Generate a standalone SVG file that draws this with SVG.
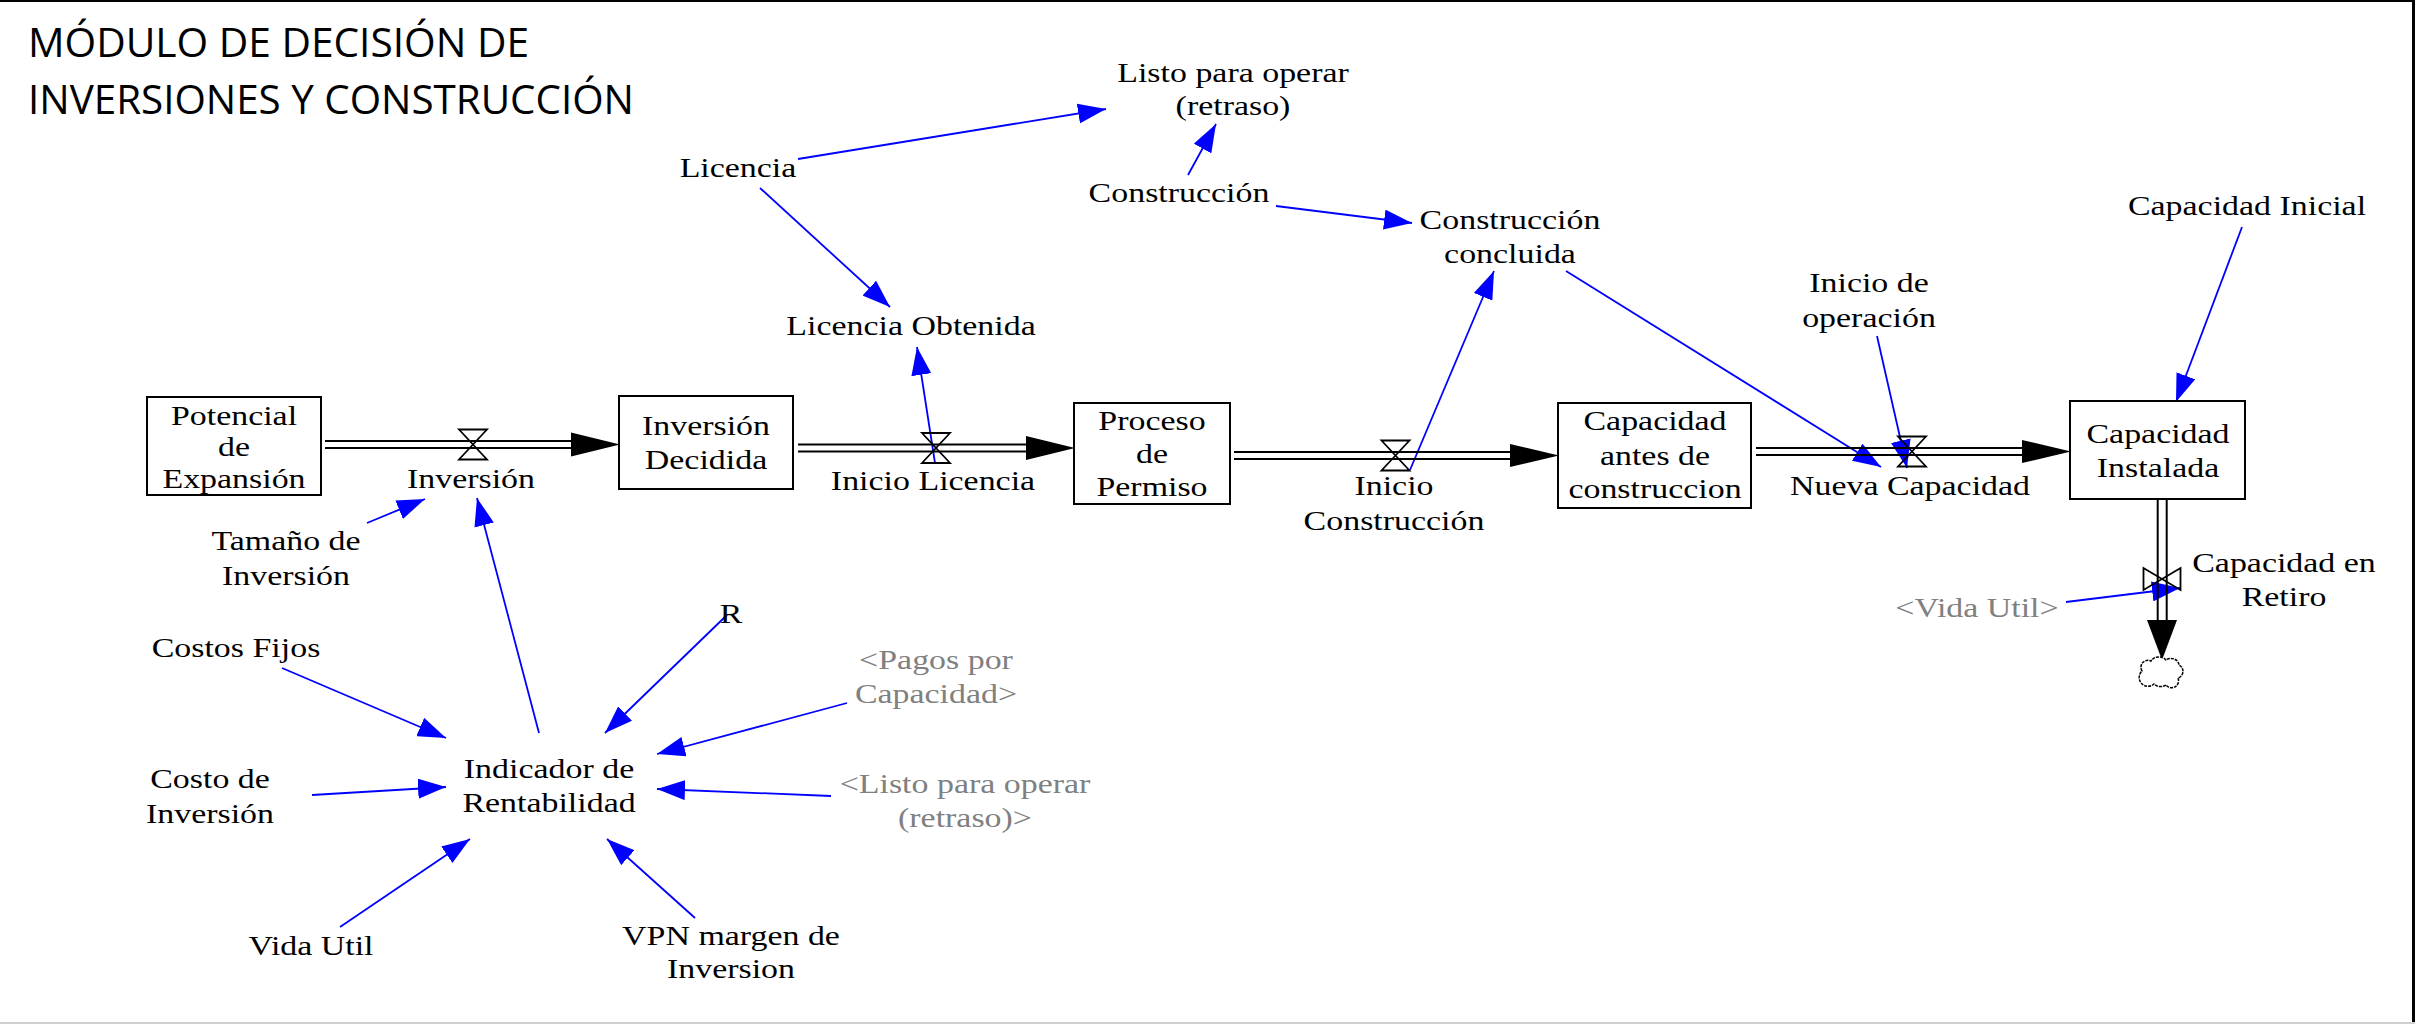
<svg xmlns="http://www.w3.org/2000/svg" width="2415" height="1024" viewBox="0 0 2415 1024">
<defs>
<style>
.t{font-family:"Liberation Serif","Times New Roman",serif;font-size:26.5px;fill:#000;text-anchor:middle}
.g{fill:#808080}
.title{font-family:"Open Sans","Liberation Sans",sans-serif;font-size:40px;fill:#000}
.stock{fill:#fff;stroke:#000;stroke-width:2}
.pipe{stroke:#000;stroke-width:2;fill:none}
.valve{fill:none;stroke:#000;stroke-width:1.8}
.head{fill:#000}
.link{stroke:#0000ff;stroke-width:1.8;fill:none;marker-end:url(#ah)}
</style>
<marker id="ah" markerUnits="userSpaceOnUse" markerWidth="28" markerHeight="20" refX="28" refY="10" orient="auto" viewBox="0 0 28 20">
<path d="M0,0 L28,10 L0,20 z" fill="#0000ff"/>
</marker>
</defs>
<rect x="0" y="0" width="2415" height="1024" fill="#fff"/>
<line x1="0" y1="1" x2="2415" y2="1" stroke="#000" stroke-width="2"/>
<line x1="2413.5" y1="0" x2="2413.5" y2="1024" stroke="#000" stroke-width="3"/>
<line x1="0" y1="1023" x2="2415" y2="1023" stroke="#d0d0d0" stroke-width="2"/>

<g id="title">
<text class="title" x="28" y="57" textLength="501" lengthAdjust="spacingAndGlyphs">MÓDULO DE DECISIÓN DE</text>
<text class="title" x="28" y="114" textLength="606" lengthAdjust="spacingAndGlyphs">INVERSIONES Y CONSTRUCCIÓN</text>
</g>

<g id="connectors">
<line class="link" x1="798" y1="159" x2="1106" y2="109"/>
<line class="link" x1="1188" y1="175" x2="1216" y2="124"/>
<line class="link" x1="760" y1="188" x2="890" y2="307"/>
<line class="link" x1="1276" y1="206" x2="1412" y2="223"/>
<line class="link" x1="935" y1="463" x2="917" y2="347"/>
<line class="link" x1="1410" y1="470" x2="1494" y2="271"/>
<line class="link" x1="1566" y1="271" x2="1881" y2="467"/>
<line class="link" x1="1877" y1="336" x2="1907" y2="468"/>
<line class="link" x1="2242" y1="227" x2="2176" y2="402"/>
<line class="link" x1="367" y1="523" x2="425" y2="499"/>
<line class="link" x1="539" y1="733" x2="477" y2="498"/>
<line class="link" x1="727" y1="615" x2="605" y2="733"/>
<line class="link" x1="282" y1="668" x2="446" y2="738"/>
<line class="link" x1="847" y1="703" x2="657" y2="754"/>
<line class="link" x1="312" y1="795" x2="446" y2="787"/>
<line class="link" x1="831" y1="796" x2="657" y2="789"/>
<line class="link" x1="340" y1="927" x2="470" y2="839"/>
<line class="link" x1="695" y1="918" x2="607" y2="839"/>
<line class="link" x1="2066" y1="602" x2="2180" y2="588"/>
</g>

<g id="flow-inversion">
<line class="pipe" x1="325" y1="441" x2="572" y2="441"/>
<line class="pipe" x1="325" y1="448" x2="572" y2="448"/>
<polygon class="head" points="571,432.5 571,456.5 620,444.5"/>
<path class="valve" d="M459,429.5 H487 L459,459.5 H487 Z"/>
<text class="t" transform="translate(471,0) scale(1.28,1)"><tspan x="0" y="488">Inversión</tspan></text>
</g>

<g id="flow-inicio-licencia">
<line class="pipe" x1="798" y1="444.5" x2="1027" y2="444.5"/>
<line class="pipe" x1="798" y1="451.5" x2="1027" y2="451.5"/>
<polygon class="head" points="1026,436 1026,460 1075,448"/>
<path class="valve" d="M922,433 H950 L922,463 H950 Z"/>
<text class="t" transform="translate(933,0) scale(1.28,1)"><tspan x="0" y="490">Inicio Licencia</tspan></text>
</g>

<g id="flow-inicio-construccion">
<line class="pipe" x1="1234" y1="452" x2="1511" y2="452"/>
<line class="pipe" x1="1234" y1="459" x2="1511" y2="459"/>
<polygon class="head" points="1510,444 1510,467 1559,455.5"/>
<path class="valve" d="M1381.5,440.5 H1409.5 L1381.5,470.5 H1409.5 Z"/>
<text class="t" transform="translate(1394,0) scale(1.28,1)"><tspan x="0" y="495">Inicio</tspan><tspan x="0" y="530">Construcción</tspan></text>
</g>

<g id="flow-nueva-capacidad">
<line class="pipe" x1="1756" y1="448" x2="2023" y2="448"/>
<line class="pipe" x1="1756" y1="455" x2="2023" y2="455"/>
<polygon class="head" points="2022,440 2022,463 2071,451.5"/>
<path class="valve" d="M1898,436.5 H1926 L1898,466.5 H1926 Z"/>
<text class="t" transform="translate(1910,0) scale(1.28,1)"><tspan x="0" y="495">Nueva Capacidad</tspan></text>
</g>

<g id="flow-capacidad-retiro">
<line class="pipe" x1="2157.7" y1="500" x2="2157.7" y2="621"/>
<line class="pipe" x1="2166.7" y1="500" x2="2166.7" y2="621"/>
<polygon class="head" points="2147,620 2177,620 2162,660"/>
<path class="valve" d="M2143.5,568 V590 L2180.5,568 V590 Z"/>
<path d="M2142,671 a7,7 0 0 1 9,-10 a9,8 0 0 1 15,-1 a8,7 0 0 1 13,5 a7,7 0 0 1 -1,13 a7,7 0 0 1 -12,7 a8,6 0 0 1 -12,-1 a7,7 0 0 1 -12,-13 z" fill="#fff" stroke="#000" stroke-width="1.5" stroke-dasharray="3,1"/>
<text class="t" transform="translate(2284,0) scale(1.28,1)"><tspan x="0" y="572">Capacidad en</tspan><tspan x="0" y="606">Retiro</tspan></text>
</g>

<g id="stock-potencial">
<rect class="stock" x="147" y="397" width="174" height="98"/>
<text class="t" transform="translate(234,0) scale(1.28,1)"><tspan x="0" y="425">Potencial</tspan><tspan x="0" y="456">de</tspan><tspan x="0" y="488">Expansión</tspan></text>
</g>
<g id="stock-inversion-decidida">
<rect class="stock" x="619" y="396" width="174" height="93"/>
<text class="t" transform="translate(706,0) scale(1.28,1)"><tspan x="0" y="435">Inversión</tspan><tspan x="0" y="469">Decidida</tspan></text>
</g>
<g id="stock-proceso-permiso">
<rect class="stock" x="1074" y="403" width="156" height="101"/>
<text class="t" transform="translate(1152,0) scale(1.28,1)"><tspan x="0" y="430">Proceso</tspan><tspan x="0" y="463">de</tspan><tspan x="0" y="496">Permiso</tspan></text>
</g>
<g id="stock-capacidad-antes">
<rect class="stock" x="1558" y="403" width="193" height="105"/>
<text class="t" transform="translate(1655,0) scale(1.28,1)"><tspan x="0" y="430">Capacidad</tspan><tspan x="0" y="465">antes de</tspan><tspan x="0" y="498">construccion</tspan></text>
</g>
<g id="stock-capacidad-instalada">
<rect class="stock" x="2070" y="401" width="175" height="98"/>
<text class="t" transform="translate(2158,0) scale(1.28,1)"><tspan x="0" y="443">Capacidad</tspan><tspan x="0" y="477">Instalada</tspan></text>
</g>

<g id="aux-listo"><text class="t" transform="translate(1233,0) scale(1.28,1)"><tspan x="0" y="82">Listo para operar</tspan><tspan x="0" y="115">(retraso)</tspan></text></g>
<g id="aux-licencia"><text class="t" transform="translate(738,0) scale(1.28,1)"><tspan x="0" y="177">Licencia</tspan></text></g>
<g id="aux-construccion"><text class="t" transform="translate(1179,0) scale(1.28,1)"><tspan x="0" y="202">Construcción</tspan></text></g>
<g id="aux-construccion-concluida"><text class="t" transform="translate(1510,0) scale(1.28,1)"><tspan x="0" y="229">Construcción</tspan><tspan x="0" y="263">concluida</tspan></text></g>
<g id="aux-licencia-obtenida"><text class="t" transform="translate(911,0) scale(1.28,1)"><tspan x="0" y="335">Licencia Obtenida</tspan></text></g>
<g id="aux-inicio-operacion"><text class="t" transform="translate(1869,0) scale(1.28,1)"><tspan x="0" y="292">Inicio de</tspan><tspan x="0" y="327">operación</tspan></text></g>
<g id="aux-capacidad-inicial"><text class="t" transform="translate(2247,0) scale(1.28,1)"><tspan x="0" y="215">Capacidad Inicial</tspan></text></g>
<g id="aux-tamano"><text class="t" transform="translate(286,0) scale(1.28,1)"><tspan x="0" y="550">Tamaño de</tspan><tspan x="0" y="585">Inversión</tspan></text></g>
<g id="aux-r"><text class="t" transform="translate(731,0) scale(1.28,1)"><tspan x="0" y="623">R</tspan></text></g>
<g id="aux-costos-fijos"><text class="t" transform="translate(236,0) scale(1.28,1)"><tspan x="0" y="657">Costos Fijos</tspan></text></g>
<g id="aux-indicador"><text class="t" transform="translate(549,0) scale(1.28,1)"><tspan x="0" y="778">Indicador de</tspan><tspan x="0" y="812">Rentabilidad</tspan></text></g>
<g id="aux-costo-inversion"><text class="t" transform="translate(210,0) scale(1.28,1)"><tspan x="0" y="788">Costo de</tspan><tspan x="0" y="823">Inversión</tspan></text></g>
<g id="shadow-pagos"><text class="t g" transform="translate(936,0) scale(1.28,1)"><tspan x="0" y="669">&lt;Pagos por</tspan><tspan x="0" y="703">Capacidad&gt;</tspan></text></g>
<g id="shadow-listo"><text class="t g" transform="translate(965,0) scale(1.28,1)"><tspan x="0" y="793">&lt;Listo para operar</tspan><tspan x="0" y="827">(retraso)&gt;</tspan></text></g>
<g id="aux-vida-util"><text class="t" transform="translate(311,0) scale(1.28,1)"><tspan x="0" y="955">Vida Util</tspan></text></g>
<g id="aux-vpn"><text class="t" transform="translate(731,0) scale(1.28,1)"><tspan x="0" y="945">VPN margen de</tspan><tspan x="0" y="978">Inversion</tspan></text></g>
<g id="shadow-vida-util"><text class="t g" transform="translate(1977,0) scale(1.28,1)"><tspan x="0" y="617">&lt;Vida Util&gt;</tspan></text></g>
</svg>
